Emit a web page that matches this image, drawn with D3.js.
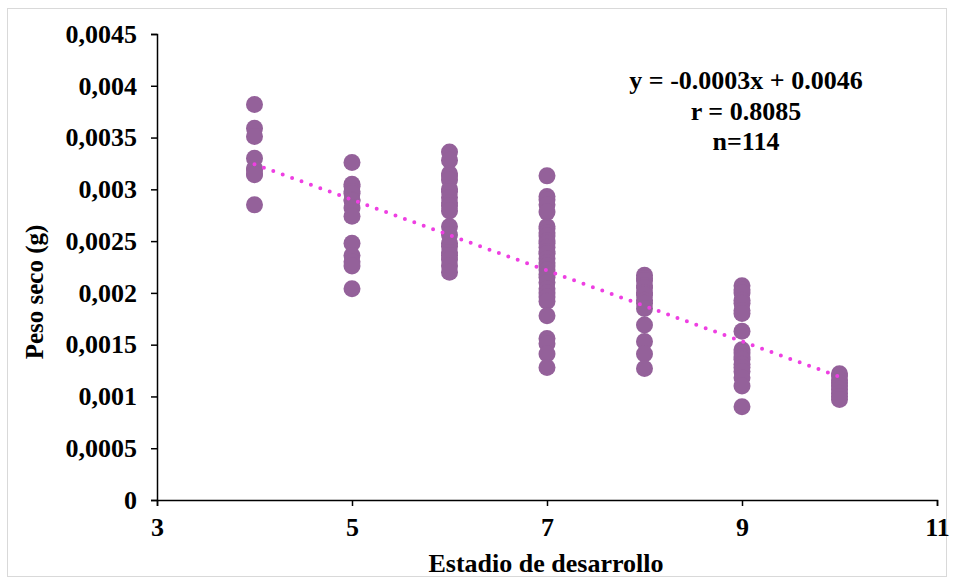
<!DOCTYPE html>
<html>
<head>
<meta charset="utf-8">
<script src="https://cdn.jsdelivr.net/npm/d3@7"></script>
<style>
  body { margin: 0; background: #fff; }
  text { font-family: "Liberation Serif", "Times New Roman", serif; font-weight: bold; fill: #000; }
</style>
</head>
<body>
<div id="chart"></div>
<script>
// Estadio de desarrollo -> peso seco (g)
var stages = [4, 5, 6, 7, 8, 9, 10];
var weights4 = [0.00382, 0.00359, 0.00351, 0.00330, 0.00320, 0.00319, 0.00315, 0.00314, 0.00285];
var weights5 = [0.00326, 0.00305, 0.00303, 0.00298, 0.00296, 0.00290, 0.00289, 0.00282, 0.00274, 0.00248, 0.00236, 0.00230, 0.00226, 0.00204];
var weights6 = [0.00336, 0.00328, 0.00315, 0.00313, 0.00309, 0.00300, 0.00298, 0.00292, 0.00287, 0.00284, 0.00279, 0.00264, 0.00256, 0.00248, 0.00245, 0.00239, 0.00236, 0.00232, 0.00226, 0.00220];
var weights7 = [0.00313, 0.00293, 0.00290, 0.00285, 0.00278, 0.00264, 0.00262, 0.00258, 0.00255, 0.00250, 0.00248, 0.00244, 0.00240, 0.00238, 0.00233, 0.00229, 0.00226, 0.00222, 0.00218, 0.00215, 0.00210, 0.00204, 0.00200, 0.00196, 0.00192, 0.00178, 0.00156, 0.00151, 0.00141, 0.00128];
var weights8 = [0.00217, 0.00214, 0.00212, 0.00207, 0.00205, 0.00200, 0.00198, 0.00193, 0.00190, 0.00185, 0.00169, 0.00153, 0.00141, 0.00127];
var weights9 = [0.00207, 0.00203, 0.00200, 0.00193, 0.00190, 0.00183, 0.00180, 0.00163, 0.00145, 0.00142, 0.00138, 0.00136, 0.00131, 0.00128, 0.00124, 0.00118, 0.00110, 0.00090];
var weights10 = [0.00122, 0.00120, 0.00116, 0.00113, 0.00110, 0.00107, 0.00103, 0.00100, 0.00097];
var weightsByStage = [weights4, weights5, weights6, weights7, weights8, weights9, weights10];

// linea de tendencia (lineal)
var trendSlope = -0.000342;
var trendIntercept = 0.00461;
var trendRange = [4, 10];

var xTicks = [3, 5, 7, 9, 11];
var yTicks = [0, 0.0005, 0.001, 0.0015, 0.002, 0.0025, 0.003, 0.0035, 0.004, 0.0045];
var yTickLabels = ["0", "0,0005", "0,001", "0,0015", "0,002", "0,0025", "0,003", "0,0035", "0,004", "0,0045"];
var annotation = ["y = -0.0003x + 0.0046", "r = 0.8085", "n=114"];

var svgWidth = 954, svgHeight = 580;
var margin = { top: 34, right: 17, bottom: 80, left: 157 };
var width = svgWidth - margin.left - margin.right;
var height = svgHeight - margin.top - margin.bottom;
var fontSize = 26;

var points = [];
stages.forEach(function(s, i) {
    weightsByStage[i].forEach(function(w) { points.push({ x: s, y: w }); });
});

var root = d3.select("#chart").append("svg")
    .attr("width", svgWidth)
    .attr("height", svgHeight);

// marco del grafico
root.append("rect")
    .attr("x", 7.5).attr("y", 8.5)
    .attr("width", 939).attr("height", 568)
    .attr("fill", "#fff")
    .attr("stroke", "#d9d9d9")
    .attr("stroke-width", 1);

var svg = root.append("g")
    .attr("transform", "translate(" + margin.left + "," + margin.top + ")");

var x = d3.scaleLinear().domain([3, 11]).range([0, width]);
var y = d3.scaleLinear().domain([0, 0.0045]).range([height, 0]);

// puntos
svg.append("g").selectAll("circle")
    .data(points)
    .enter()
    .append("circle")
    .attr("cx", function(d) { return x(d.x); })
    .attr("cy", function(d) { return y(d.y); })
    .attr("r", 8.5)
    .attr("fill", "#94619a");

// tendencia
var line = d3.line()
    .x(function(d) { return x(d); })
    .y(function(d) { return y(trendSlope * d + trendIntercept); });

svg.append("path")
    .datum(trendRange)
    .attr("d", line)
    .attr("fill", "none")
    .attr("stroke", "#ee3fe2")
    .attr("stroke-width", 4)
    .attr("stroke-linecap", "round")
    .attr("stroke-dasharray", "0,10");

// ejes
var xAxis = d3.axisBottom(x).tickValues(xTicks).tickSize(6).tickPadding(12).tickFormat(d3.format("d"));
var yAxis = d3.axisLeft(y).tickValues(yTicks).tickSize(6).tickPadding(14)
    .tickFormat(function(d, i) { return yTickLabels[i]; });

var gx = svg.append("g")
    .attr("transform", "translate(0," + height + ")")
    .call(xAxis);
var gy = svg.append("g").call(yAxis);

[gx, gy].forEach(function(g) {
    g.select(".domain").attr("stroke", "#000").attr("stroke-width", 1.5);
    g.selectAll(".tick line").attr("stroke", "#000").attr("stroke-width", 1.5);
    g.selectAll(".tick text")
        .attr("font-family", "Liberation Serif")
        .attr("font-weight", "bold")
        .attr("font-size", fontSize + "px")
        .attr("fill", "#000");
});

// titulos de ejes
svg.append("text")
    .attr("x", 546 - margin.left)
    .attr("y", height + 72)
    .attr("text-anchor", "middle")
    .attr("font-size", fontSize + "px")
    .text("Estadio de desarrollo");

svg.append("text")
    .attr("transform", "rotate(-90)")
    .attr("x", -(292 - margin.top))
    .attr("y", -(margin.left - 43))
    .attr("text-anchor", "middle")
    .attr("font-size", "25px")
    .text("Peso seco (g)");

// ecuacion
svg.append("g").selectAll("text")
    .data(annotation)
    .enter()
    .append("text")
    .attr("x", 746 - margin.left)
    .attr("y", function(d, i) { return 89 - margin.top + i * 30.5; })
    .attr("text-anchor", "middle")
    .attr("font-size", fontSize + "px")
    .text(function(d) { return d; });
</script>
</body>
</html>
